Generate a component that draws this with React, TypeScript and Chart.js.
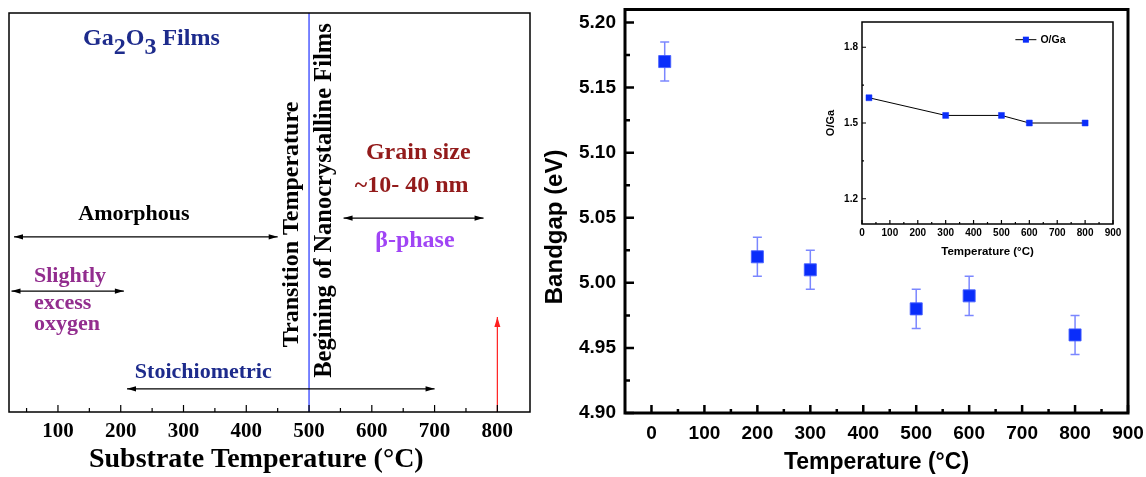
import React, { useEffect, useRef } from "react";
import { Chart, registerables } from "chart.js";

Chart.register(...registerables);

const SERIF = "'Liberation Serif', 'Times New Roman', Times, serif";
const SANS = "'Liberation Sans', Arial, Helvetica, sans-serif";

// ---------- Phase map of Ga2O3 films vs substrate temperature ----------
const phaseTickValues = [100, 200, 300, 400, 500, 600, 700, 800];
const phaseMinorTicks = [50, 150, 250, 350, 450, 550, 650, 750];
const amorphousRange = [30, 450];
const excessOxygenRange = [26, 205];
const stoichiometricRange = [210, 700];
const betaPhaseRange = [555, 778];
const transitionTemperature = 500;
const grainSizeMarker = 800;

// ---------- Optical bandgap ----------
const bandgapTemps = [25, 200, 300, 500, 600, 800];
const bandgapValues = [5.17, 5.02, 5.01, 4.98, 4.99, 4.96];
const bandgapErrors = [0.015, 0.015, 0.015, 0.015, 0.015, 0.015];
const bandgapXTicks = [0, 100, 200, 300, 400, 500, 600, 700, 800, 900];
const bandgapXMinor = [50, 150, 250, 350, 450, 550, 650, 750, 850];
const bandgapYTicks = [4.9, 4.95, 5.0, 5.05, 5.1, 5.15, 5.2];
const bandgapYMinor = [4.925, 4.975, 5.025, 5.075, 5.125, 5.175];

// ---------- O/Ga ratio (inset) ----------
const ratioTemps = [25, 300, 500, 600, 800];
const ratioValues = [1.6, 1.53, 1.53, 1.5, 1.5];
const ratioXTicks = [0, 100, 200, 300, 400, 500, 600, 700, 800, 900];
const ratioXMinor = [50, 150, 250, 350, 450, 550, 650, 750, 850];
const ratioYTicks = [1.2, 1.5, 1.8];
const ratioYMinor = [1.35, 1.65];

const NAVY = "#1d2b8c";
const DARK_RED = "#931b1b";
const VIOLET = "#a044f5";
const PLUM = "#922d8e";
const MARKER_BLUE = "#0a2dfa";

// ---------- shared plugins ----------
function framePlugin(width: number) {
  return {
    id: "frame",
    afterDraw(chart: any) {
      const { ctx, chartArea: a } = chart;
      ctx.save();
      ctx.strokeStyle = "#000";
      ctx.lineWidth = width;
      ctx.strokeRect(a.left, a.top, a.right - a.left, a.bottom - a.top);
      ctx.restore();
    },
  };
}

type TickSpec = { id: string; minor: number[]; major: number; minorLen: number; width: number };

function inwardTicksPlugin(specs: TickSpec[]) {
  return {
    id: "inwardTicks",
    afterDraw(chart: any) {
      const { ctx, chartArea: a } = chart;
      ctx.save();
      ctx.strokeStyle = "#000";
      specs.forEach((spec) => {
        const s = chart.scales[spec.id];
        ctx.lineWidth = spec.width;
        ctx.beginPath();
        const mark = (v: number, len: number) => {
          const p = s.getPixelForValue(v);
          if (s.isHorizontal()) {
            ctx.moveTo(p, a.bottom);
            ctx.lineTo(p, a.bottom - len);
          } else {
            ctx.moveTo(a.left, p);
            ctx.lineTo(a.left + len, p);
          }
        };
        s.ticks.forEach((t: any) => mark(t.value, spec.major));
        spec.minor.forEach((v) => mark(v, spec.minorLen));
        ctx.stroke();
      });
      ctx.restore();
    },
  };
}

const fixedTicks = (values: number[]) => (scale: any) => {
  scale.ticks = values.map((value) => ({ value }));
};

// fixed axis thickness; edge labels may overhang into the outer padding
const fixedSize = (size: number) => (scale: any) => {
  if (scale.isHorizontal()) scale.height = size;
  else scale.width = size;
  scale.paddingLeft = 0;
  scale.paddingRight = 0;
  scale.paddingTop = 0;
  scale.paddingBottom = 0;
};

// ---------- left panel: phase map ----------
const arrowHeadsPlugin = {
  id: "arrowHeads",
  afterDatasetsDraw(chart: any) {
    const ctx = chart.ctx;
    chart.data.datasets.forEach((ds: any, i: number) => {
      if (!ds.arrowHeads) return;
      const pts = chart.getDatasetMeta(i).data;
      const a = pts[0];
      const b = pts[pts.length - 1];
      const L = ds.headLength;
      const W = ds.headWidth;
      const head = (from: any, to: any) => {
        const ang = Math.atan2(to.y - from.y, to.x - from.x);
        const c = Math.cos(ang);
        const s = Math.sin(ang);
        ctx.beginPath();
        ctx.moveTo(to.x, to.y);
        ctx.lineTo(to.x - L * c + W * s, to.y - L * s - W * c);
        ctx.lineTo(to.x - L * c - W * s, to.y - L * s + W * c);
        ctx.closePath();
        ctx.fill();
      };
      ctx.save();
      ctx.fillStyle = ds.borderColor;
      head(a, b);
      if (ds.arrowHeads === "both") head(b, a);
      ctx.restore();
    });
  },
};

type PhaseLabel = {
  parts: [string, number][];
  x: number;
  y: number;
  size: number;
  color: string;
  align: "left" | "center";
  rotate?: boolean;
};

const phaseLabels: PhaseLabel[] = [
  { parts: [["Ga", 0], ["2", 9], ["O", 0], ["3", 9], [" Films", 0]], x: 140, y: 92, size: 24, color: NAVY, align: "left" },
  { parts: [["Amorphous", 0]], x: 221, y: 48.1, size: 22, color: "#000", align: "center" },
  { parts: [["Transition Temperature", 0]], x: 482, y: 47.0, size: 24, color: "#000", align: "center", rotate: true },
  { parts: [["Begining of Nanocrystalline Films", 0]], x: 535, y: 53.0, size: 24.5, color: "#000", align: "center", rotate: true },
  { parts: [["Grain size", 0]], x: 674, y: 63.3, size: 24, color: DARK_RED, align: "center" },
  { parts: [["~10- 40 nm", 0]], x: 663.5, y: 55.2, size: 24, color: DARK_RED, align: "center" },
  { parts: [["\u03b2-phase", 0]], x: 668.7, y: 41.35, size: 24, color: VIOLET, align: "center" },
  { parts: [["Slightly", 0]], x: 61.8, y: 32.7, size: 22, color: PLUM, align: "left" },
  { parts: [["excess", 0]], x: 61.8, y: 25.8, size: 22, color: PLUM, align: "left" },
  { parts: [["oxygen", 0]], x: 61.8, y: 20.55, size: 22, color: PLUM, align: "left" },
  { parts: [["Stoichiometric", 0]], x: 331.5, y: 8.45, size: 22, color: NAVY, align: "center" },
  { parts: [["Substrate Temperature (\u00b0C)", 0]], x: 416, y: -13.8, size: 28, color: "#000", align: "center" },
];

const phaseTextPlugin = {
  id: "phaseText",
  afterDraw(chart: any) {
    const { ctx, scales } = chart;
    phaseLabels.forEach((item) => {
      const px = scales.x.getPixelForValue(item.x);
      const py = scales.y.getPixelForValue(item.y);
      ctx.save();
      ctx.font = `bold ${item.size}px ${SERIF}`;
      ctx.fillStyle = item.color;
      ctx.textBaseline = "alphabetic";
      ctx.textAlign = "left";
      ctx.translate(px, py);
      if (item.rotate) ctx.rotate(-Math.PI / 2);
      const total = item.parts.reduce((w, [t]) => w + ctx.measureText(t).width, 0);
      let cx = item.align === "center" ? -total / 2 : 0;
      item.parts.forEach(([t, dy]) => {
        ctx.fillText(t, cx, dy);
        cx += ctx.measureText(t).width;
      });
      ctx.restore();
    });
  },
};

// vertical placement (0-100 band) of each region arrow
const phaseArrows = [
  { range: amorphousRange, level: 43.9, color: "#000" },
  { range: betaPhaseRange, level: 48.6, color: "#000" },
  { range: excessOxygenRange, level: 30.3, color: "#000" },
  { range: stoichiometricRange, level: 5.8, color: "#000" },
];

function buildPhaseConfig(): any {
  const datasets: any[] = phaseArrows.map((a) => ({
    data: [
      { x: a.range[0], y: a.level },
      { x: a.range[1], y: a.level },
    ],
    showLine: true,
    borderColor: a.color,
    borderWidth: 1.2,
    pointRadius: 0,
    arrowHeads: "both",
    headLength: 9,
    headWidth: 2.6,
  }));
  datasets.push({
    data: [
      { x: transitionTemperature, y: 0 },
      { x: transitionTemperature, y: 100 },
    ],
    showLine: true,
    borderColor: "#4e5cff",
    borderWidth: 1.5,
    pointRadius: 0,
  });
  datasets.push({
    data: [
      { x: grainSizeMarker, y: 0 },
      { x: grainSizeMarker, y: 23.8 },
    ],
    showLine: true,
    borderColor: "#ff1f1f",
    borderWidth: 1.2,
    pointRadius: 0,
    arrowHeads: "end",
    headLength: 10,
    headWidth: 3,
  });
  return {
    type: "scatter",
    data: { datasets },
    options: {
      responsive: false,
      animation: false,
      devicePixelRatio: 1,
      layout: { padding: { left: 9, top: 13, right: 10, bottom: 0 } },
      plugins: { legend: { display: false }, tooltip: { enabled: false } },
      scales: {
        x: {
          type: "linear",
          min: 22,
          max: 852,
          afterBuildTicks: fixedTicks(phaseTickValues),
          afterFit: fixedSize(65),
          grid: { display: false, drawTicks: false },
          border: { display: false },
          ticks: {
            color: "#000",
            padding: 7,
            maxRotation: 0,
            autoSkip: false,
            font: { family: SERIF, size: 21, weight: "bold" },
          },
        },
        y: { type: "linear", min: 0, max: 100, display: false },
      },
    },
    plugins: [
      arrowHeadsPlugin,
      phaseTextPlugin,
      framePlugin(1.5),
      inwardTicksPlugin([{ id: "x", minor: phaseMinorTicks, major: 7, minorLen: 4, width: 1.2 }]),
    ],
  };
}

// ---------- right panel: bandgap ----------
const errorBarPlugin = {
  id: "errorBars",
  beforeDatasetsDraw(chart: any) {
    const { ctx, scales } = chart;
    ctx.save();
    ctx.strokeStyle = "rgba(90,105,255,0.8)";
    ctx.lineWidth = 1.5;
    chart.data.datasets[0].data.forEach((d: any) => {
      const px = scales.x.getPixelForValue(d.x);
      const top = scales.y.getPixelForValue(d.y + d.err);
      const bot = scales.y.getPixelForValue(d.y - d.err);
      ctx.beginPath();
      ctx.moveTo(px, top);
      ctx.lineTo(px, bot);
      ctx.moveTo(px - 4.5, top);
      ctx.lineTo(px + 4.5, top);
      ctx.moveTo(px - 4.5, bot);
      ctx.lineTo(px + 4.5, bot);
      ctx.stroke();
    });
    ctx.restore();
  },
};

// y-axis title, set a little below the axis midpoint
const bandgapTitlePlugin = {
  id: "bandgapTitle",
  afterDraw(chart: any) {
    const { ctx, scales, chartArea } = chart;
    ctx.save();
    ctx.font = `bold 24px ${SANS}`;
    ctx.fillStyle = "#000";
    ctx.textAlign = "center";
    ctx.textBaseline = "middle";
    ctx.translate(chartArea.left - 70, scales.y.getPixelForValue(5.043));
    ctx.rotate(-Math.PI / 2);
    ctx.fillText("Bandgap (eV)", 0, 0);
    ctx.restore();
  },
};

function buildBandgapConfig(): any {
  return {
    type: "scatter",
    data: {
      datasets: [
        {
          label: "Bandgap",
          data: bandgapTemps.map((t, i) => ({ x: t, y: bandgapValues[i], err: bandgapErrors[i] })),
          pointStyle: "rect",
          pointRadius: 8.5,
          backgroundColor: MARKER_BLUE,
          borderColor: "rgba(70,95,255,0.9)",
          borderWidth: 1,
        },
      ],
    },
    options: {
      responsive: false,
      animation: false,
      devicePixelRatio: 1,
      layout: { padding: { left: 0, top: 9, right: 18, bottom: 0 } },
      plugins: { legend: { display: false }, tooltip: { enabled: false } },
      scales: {
        x: {
          type: "linear",
          min: -50,
          max: 900,
          afterBuildTicks: fixedTicks(bandgapXTicks),
          afterFit: fixedSize(64),
          grid: { display: false, drawTicks: false },
          border: { display: false },
          ticks: {
            color: "#000",
            padding: 9,
            maxRotation: 0,
            autoSkip: false,
            font: { family: SANS, size: 19, weight: "bold" },
          },
          title: {
            display: true,
            text: "Temperature (\u00b0C)",
            color: "#000",
            font: { family: SANS, size: 23, weight: "bold" },
            padding: { top: 0, bottom: 1 },
          },
        },
        y: {
          type: "linear",
          min: 4.9,
          max: 5.21,
          afterBuildTicks: fixedTicks(bandgapYTicks),
          afterFit: fixedSize(85),
          grid: { display: false, drawTicks: false },
          border: { display: false },
          ticks: {
            color: "#000",
            padding: 9,
            autoSkip: false,
            callback: (v: any) => Number(v).toFixed(2),
            font: { family: SANS, size: 19, weight: "bold" },
          },
        },
      },
    },
    plugins: [
      errorBarPlugin,
      bandgapTitlePlugin,
      framePlugin(3),
      inwardTicksPlugin([
        { id: "x", minor: bandgapXMinor, major: 8, minorLen: 4, width: 2.5 },
        { id: "y", minor: bandgapYMinor, major: 9, minorLen: 5, width: 2.5 },
      ]),
    ],
  };
}

// ---------- inset: O/Ga ratio ----------
const ratioLegendPlugin = {
  id: "ratioLegend",
  afterDraw(chart: any) {
    const { ctx, scales } = chart;
    const ds = chart.data.datasets[0];
    const x0 = scales.x.getPixelForValue(550);
    const y0 = scales.y.getPixelForValue(1.83);
    ctx.save();
    ctx.strokeStyle = "#000";
    ctx.lineWidth = 1;
    ctx.beginPath();
    ctx.moveTo(x0, y0);
    ctx.lineTo(x0 + 21, y0);
    ctx.stroke();
    ctx.fillStyle = MARKER_BLUE;
    ctx.fillRect(x0 + 7.5, y0 - 3, 6, 6);
    ctx.fillStyle = "#000";
    ctx.font = `bold 10.5px ${SANS}`;
    ctx.textBaseline = "middle";
    ctx.textAlign = "left";
    ctx.fillText(ds.label, x0 + 25, y0);
    ctx.restore();
  },
};

function buildRatioConfig(): any {
  return {
    type: "scatter",
    data: {
      datasets: [
        {
          label: "O/Ga",
          data: ratioTemps.map((t, i) => ({ x: t, y: ratioValues[i] })),
          showLine: true,
          borderColor: "#000",
          borderWidth: 1,
          pointStyle: "rect",
          pointRadius: 4.2,
          pointBackgroundColor: MARKER_BLUE,
          pointBorderColor: MARKER_BLUE,
          pointBorderWidth: 0.5,
        },
      ],
    },
    options: {
      responsive: false,
      animation: false,
      devicePixelRatio: 1,
      layout: { padding: { left: 0, top: 10, right: 10, bottom: 0 } },
      plugins: { legend: { display: false }, tooltip: { enabled: false } },
      scales: {
        x: {
          type: "linear",
          min: 0,
          max: 900,
          afterBuildTicks: fixedTicks(ratioXTicks),
          afterFit: fixedSize(38),
          grid: { display: false, drawTicks: false },
          border: { display: false },
          ticks: {
            color: "#000",
            padding: 3,
            maxRotation: 0,
            autoSkip: false,
            font: { family: SANS, size: 10, weight: "bold" },
          },
          title: {
            display: true,
            text: "Temperature (\u00b0C)",
            color: "#000",
            font: { family: SANS, size: 11.5, weight: "bold" },
            padding: { top: 0, bottom: 3 },
          },
        },
        y: {
          type: "linear",
          min: 1.1,
          max: 1.9,
          afterBuildTicks: fixedTicks(ratioYTicks),
          afterFit: fixedSize(47),
          grid: { display: false, drawTicks: false },
          border: { display: false },
          ticks: {
            color: "#000",
            padding: 4,
            autoSkip: false,
            callback: (v: any) => Number(v).toFixed(1),
            font: { family: SANS, size: 10, weight: "bold" },
          },
          title: {
            display: true,
            text: "O/Ga",
            color: "#000",
            font: { family: SANS, size: 11, weight: "bold" },
            padding: { top: 9.4, bottom: 0 },
          },
        },
      },
    },
    plugins: [
      framePlugin(1.5),
      inwardTicksPlugin([
        { id: "x", minor: ratioXMinor, major: 4, minorLen: 2, width: 1.2 },
        { id: "y", minor: ratioYMinor, major: 4, minorLen: 2, width: 1.2 },
      ]),
      ratioLegendPlugin,
    ],
  };
}

type Box = { x: number; y: number; w: number; h: number };

function ChartCanvas({ box, build }: { box: Box; build: () => any }) {
  const ref = useRef<HTMLCanvasElement>(null);
  useEffect(() => {
    const chart = new Chart(ref.current as HTMLCanvasElement, build());
    return () => chart.destroy();
  }, []);
  return (
    <canvas
      ref={ref}
      width={box.w}
      height={box.h}
      style={{ position: "absolute", left: box.x, top: box.y, width: box.w, height: box.h }}
    />
  );
}

export default function App() {
  return (
    <div
      style={{
        position: "absolute",
        left: 0,
        top: 0,
        width: 1146,
        height: 477,
        background: "#fff",
        overflow: "hidden",
      }}
    >
      <ChartCanvas box={{ x: 0, y: 0, w: 540, h: 477 }} build={buildPhaseConfig} />
      <ChartCanvas box={{ x: 540, y: 0, w: 606, h: 477 }} build={buildBandgapConfig} />
      <ChartCanvas box={{ x: 815, y: 12, w: 308, h: 250 }} build={buildRatioConfig} />
    </div>
  );
}
